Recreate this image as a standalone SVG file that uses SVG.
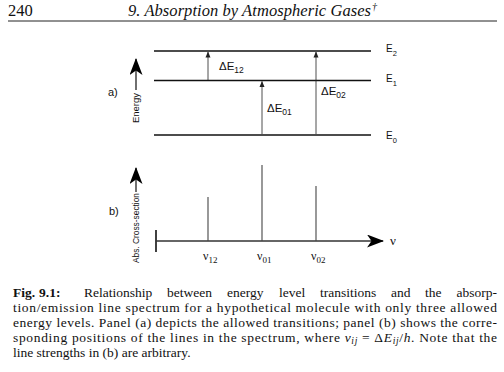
<svg xmlns="http://www.w3.org/2000/svg" width="504" height="372" viewBox="0 0 504 372">
<defs>
<style>
.serif{font-family:"Liberation Serif","Times New Roman",serif;fill:#111}
.sans{font-family:"Liberation Sans",Arial,sans-serif;fill:#111}
.level{stroke:#111;stroke-width:1.6}
.trans{stroke:#222;stroke-width:0.8;fill:none}
.spec{stroke:#444;stroke-width:1.1}
.axis{stroke:#333;stroke-width:1.4;fill:none}
</style>
<marker id="small" markerWidth="6" markerHeight="8" refX="5.5" refY="4" orient="auto" markerUnits="userSpaceOnUse">
<path d="M0,1.5 L6,4 L0,6.5 Z" fill="#222"/>
</marker>
<marker id="big" markerWidth="17" markerHeight="13" refX="16" refY="6.5" orient="auto" markerUnits="userSpaceOnUse">
<path d="M0,0 L17,6.5 L0,13 L4.5,6.5 Z" fill="#000"/>
</marker>
</defs>
<rect width="504" height="372" fill="#fff"/>

<g id="header">
<text class="serif" x="8" y="15.5" font-size="16.5">240</text>
<text class="serif" x="128" y="15.5" font-size="16.5" font-style="italic" textLength="243" lengthAdjust="spacing">9. Absorption by Atmospheric Gases</text>
<text class="serif" x="372" y="10" font-size="10" font-style="italic">†</text>
<line x1="8" y1="21" x2="497" y2="21" stroke="#222" stroke-width="1"/>
</g>

<g id="panel-a">
<g id="level-E2"><line class="level" x1="154" y1="51" x2="371" y2="51"/><text class="sans" x="386" y="52" font-size="10">E<tspan font-size="7.5" dy="3.5">2</tspan></text></g>
<g id="level-E1"><line class="level" x1="154" y1="80.5" x2="371" y2="80.5"/><text class="sans" x="386" y="82" font-size="10">E<tspan font-size="7.5" dy="3.5">1</tspan></text></g>
<g id="level-E0"><line class="level" x1="154" y1="135" x2="371" y2="135"/><text class="sans" x="386" y="139" font-size="10">E<tspan font-size="7.5" dy="3.5">0</tspan></text></g>
<text id="label-a" class="sans" x="108" y="96" font-size="11">a)</text>
<g id="energy-axis">
<line class="axis" x1="136" y1="90" x2="136" y2="59" marker-end="url(#big)" stroke-width="1.3"/>
<text class="sans" transform="translate(139,108) rotate(-90)" text-anchor="middle" font-size="9.5">Energy</text>
</g>
</g>

<g id="connectors">
<line class="trans" x1="208" y1="80" x2="208" y2="52" marker-end="url(#small)"/>
<line class="trans" x1="262" y1="134" x2="262" y2="81.5" marker-end="url(#small)"/>
<line class="trans" x1="316" y1="134" x2="316" y2="52" marker-end="url(#small)"/>
</g>

<g id="transition-labels">
<text class="sans" x="219" y="70" font-size="11.5">ΔE<tspan font-size="8.5" dy="3">12</tspan></text>
<text class="sans" x="267" y="112" font-size="11.5">ΔE<tspan font-size="8.5" dy="3">01</tspan></text>
<text class="sans" x="321" y="95" font-size="11.5">ΔE<tspan font-size="8.5" dy="3">02</tspan></text>
</g>

<g id="panel-b">
<text id="label-b" class="sans" x="109" y="215" font-size="11">b)</text>
<g id="cross-section-axis">
<line class="axis" x1="136" y1="192" x2="136" y2="168" marker-end="url(#big)" stroke-width="1.3"/>
<text class="sans" transform="translate(139,228) rotate(-90)" text-anchor="middle" font-size="9" textLength="70" lengthAdjust="spacingAndGlyphs">Abs. Cross-section</text>
</g>
<g id="nu-axis">
<line x1="156" y1="230" x2="156" y2="252" stroke="#111" stroke-width="1.6"/>
<line class="axis" x1="156" y1="241" x2="383" y2="241" marker-end="url(#big)"/>
<text class="serif" x="390" y="245" font-size="13">ν</text>
</g>
<g id="line-12"><line class="spec" x1="208" y1="197" x2="208" y2="241"/><text class="serif" x="203" y="260" font-size="12">ν<tspan font-size="9" dy="2.5">12</tspan></text></g>
<g id="line-01"><line class="spec" x1="262" y1="165" x2="262" y2="241"/><text class="serif" x="257" y="260" font-size="12">ν<tspan font-size="9" dy="2.5">01</tspan></text></g>
<g id="line-02"><line class="spec" x1="316" y1="186" x2="316" y2="241"/><text class="serif" x="311" y="260" font-size="12">ν<tspan font-size="9" dy="2.5">02</tspan></text></g>
</g>

<g id="caption" class="serif" font-size="13.5">
<text y="296.5"><tspan x="13" font-weight="bold">Fig.</tspan><tspan x="39" font-weight="bold">9.1:</tspan><tspan x="84">Relationship</tspan><tspan x="167">between</tspan><tspan x="227">energy</tspan><tspan x="279">level</tspan><tspan x="320">transitions</tspan><tspan x="391">and</tspan><tspan x="425">the</tspan><tspan x="497" text-anchor="end">absorp-</tspan></text>
<text x="13" y="311.5" textLength="484" lengthAdjust="spacing">tion/emission line spectrum for a hypothetical molecule with only three allowed</text>
<text x="13" y="326.5" textLength="484" lengthAdjust="spacing">energy levels. Panel (a) depicts the allowed transitions; panel (b) shows the corre-</text>
<text x="13" y="341.5" textLength="484" lengthAdjust="spacing">sponding positions of the lines in the spectrum, where <tspan font-style="italic">ν</tspan><tspan font-style="italic" font-size="9.5" dy="2.5">ij</tspan><tspan dy="-2.5"> = Δ</tspan><tspan font-style="italic">E</tspan><tspan font-style="italic" font-size="9.5" dy="2.5">ij</tspan><tspan dy="-2.5">/</tspan><tspan font-style="italic">h</tspan>. Note that the</text>
<text x="13" y="356.5">line strengths in (b) are arbitrary.</text>
</g>
</svg>
